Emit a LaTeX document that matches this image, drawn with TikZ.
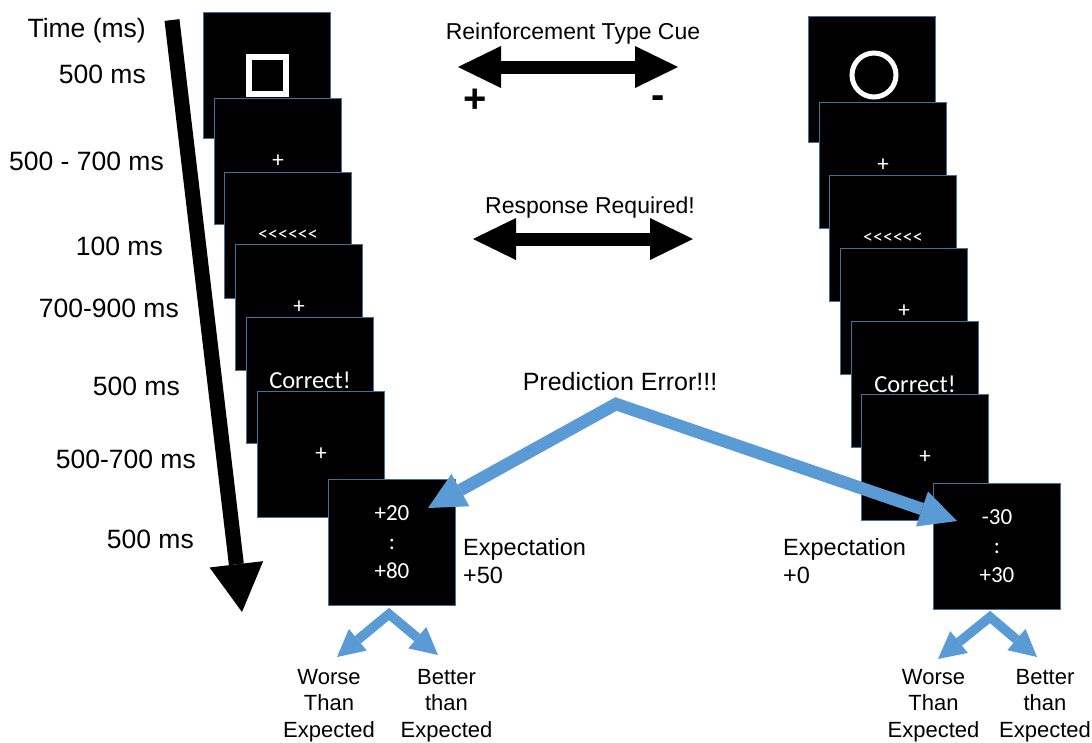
\documentclass[tikz,border=0pt]{standalone}
\usepackage{fontspec}
\setmainfont{Liberation Sans}
\newfontfamily\scrfont{Carlito}[Ligatures=TeXOff]
\usetikzlibrary{arrows.meta}
\definecolor{scrborder}{RGB}{65,113,156}
\definecolor{peblue}{RGB}{91,155,213}
\newcommand\fsz[2]{\fontsize{#1}{#2}\selectfont}

\begin{document}
\begin{tikzpicture}[x=1pt,y=-1pt,line join=miter,
  screenbox/.style={fill=black, draw=scrborder, line width=1pt,
    minimum width=127pt, minimum height=126pt, inner sep=0pt,
    anchor=north west, text=white, font=\scrfont\fsz{23}{29}, align=center},
  tlabel/.style={anchor=base east, inner sep=0pt, font=\fsz{26.5}{30}},
  toplabel/.style={anchor=base, inner sep=0pt, font=\fsz{23}{28}},
  signlabel/.style={anchor=base, inner sep=0pt, font=\bfseries\fsz{40}{44}},
  explabel/.style={anchor=north west, inner sep=0pt, align=left, font=\fsz{23.5}{28}},
  outlabel/.style={anchor=north, inner sep=0pt, align=center, font=\fsz{22}{26.5}},
  cuearrow/.style={draw=black, line width=13pt,
    {Triangle[length=43pt,width=42pt,line width=0pt]}-{Triangle[length=43pt,width=42pt,line width=0pt]}},
  timearrow/.style={draw=black, line width=15pt,
    -{Triangle[length=48pt,width=54pt,line width=0pt]}},
  pearrow/.style={draw=peblue, line width=12.5pt,
    {Triangle[length=37pt,width=37pt,line width=0pt]}-{Triangle[length=37pt,width=37pt,line width=0pt]}},
  outarrow/.style={draw=peblue, line width=9.5pt,
    {Triangle[length=27pt,width=28pt,line width=0pt]}-{Triangle[length=27pt,width=28pt,line width=0pt]}}
]
\fill[white] (0,0) rectangle (1092,742);
\useasboundingbox (0,0) rectangle (1092,742);

% time axis
\coordinate (tTop) at (172,20);
\coordinate (tEnd) at (242,612);
\draw[timearrow] (tTop) -- (tEnd);

\node[tlabel] (tl0) at (146,37) {Time (ms)};
\node[tlabel] (tl1) at (146,83) {500 ms};
\node[tlabel] (tl2) at (164,170) {500 - 700 ms};
\node[tlabel] (tl3) at (163,255) {100 ms};
\node[tlabel] (tl4) at (179,317) {700-900 ms};
\node[tlabel] (tl5) at (180,395) {500 ms};
\node[tlabel] (tl6) at (196,468) {500-700 ms};
\node[tlabel] (tl7) at (194,548) {500 ms};

% left trial sequence
\node[screenbox] (L1) at (203,12) {};
\node[draw=white, line width=6pt, minimum size=37pt, inner sep=0pt] (sq) at (267,75) {};
\node[screenbox] (L2) at (214,98) {+};
\node[screenbox] (L3) at (224,172) {\fsz{20}{24}<<<<<<};
\node[screenbox] (L4) at (235,244) {+};
\node[screenbox] (L5) at (246,317) {\fsz{24.5}{29}Correct!};
\node[screenbox] (L6) at (257,391) {+};
\node[screenbox] (L7) at (328,479) {+20\\:\\+80};

% right trial sequence
\node[screenbox] (R1) at (808,16) {};
\node[circle, draw=white, line width=5pt, minimum size=44pt, inner sep=0pt] (ci) at (874,75) {};
\node[screenbox] (R2) at (819,102) {+};
\node[screenbox] (R3) at (829,175) {\fsz{20}{24}<<<<<<};
\node[screenbox] (R4) at (840,248) {+};
\node[screenbox] (R5) at (851,321) {\fsz{24.5}{29}Correct!};
\node[screenbox] (R6) at (861,394) {+};
\node[screenbox] (R7) at (933,483) {-30\\:\\+30};

% cue and response arrows
\node[toplabel] (cue) at (573,39) {Reinforcement Type Cue};
\coordinate (cueL) at (458,67);
\coordinate (cueR) at (678,67);
\draw[cuearrow] (cueL) -- (cueR);
\node[signlabel] (plus) at (475,112) {+};
\node[signlabel] (minus) at (658,108) {-};

\node[toplabel] (resp) at (590,213) {Response Required!};
\coordinate (respL) at (473,239);
\coordinate (respR) at (693,239);
\draw[cuearrow] (respL) -- (respR);

% expectations
\node[explabel] (expL) at (463,538) {Expectation\\+50};
\node[explabel] (expR) at (783,538) {Expectation\\+0};

% prediction error
\node[anchor=base, inner sep=0pt, font=\fsz{25}{30}] (pe) at (620,390) {Prediction Error!!!};
\coordinate (peApex) at (616,404);
\coordinate (peL) at (428,508);
\coordinate (peR) at (957,521);
\draw[pearrow] (peL) -- (peApex) -- (peR);

% outcomes
\coordinate (oL) at (389,614);
\coordinate (oLw) at (337,657);
\coordinate (oLb) at (438,655);
\draw[outarrow] (oLw) -- (oL) -- (oLb);
\coordinate (oR) at (990,617);
\coordinate (oRw) at (938,659);
\coordinate (oRb) at (1037,657);
\draw[outarrow] (oRw) -- (oR) -- (oRb);

\node[outlabel] (wL) at (329,669) {Worse\\Than\\Expected};
\node[outlabel] (bL) at (446.5,669) {Better\\than\\Expected};
\node[outlabel] (wR) at (933.5,669) {Worse\\Than\\Expected};
\node[outlabel] (bR) at (1045,669) {Better\\than\\Expected};
\end{tikzpicture}
\end{document}
